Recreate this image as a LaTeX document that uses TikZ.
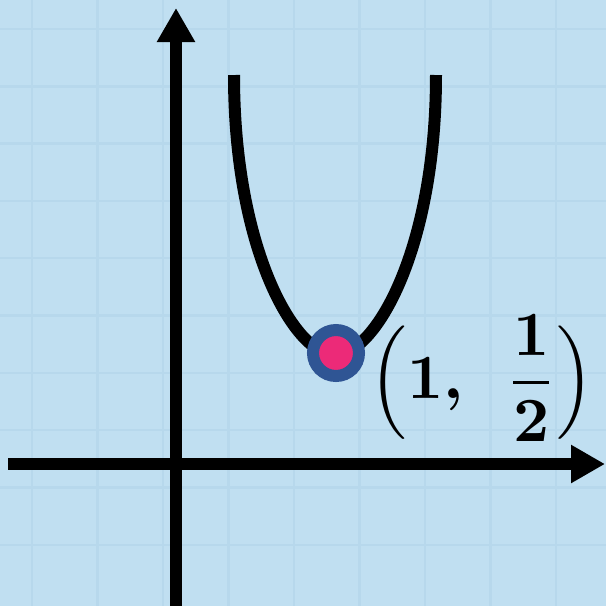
\documentclass[tikz,border=0pt]{standalone}
\usepackage{amsmath}
\usetikzlibrary{arrows.meta}
\definecolor{paper}{HTML}{C0DFF1}
\definecolor{gridline}{HTML}{B7D8EC}
\definecolor{ring}{HTML}{2F5594}
\definecolor{dotfill}{HTML}{EC2A78}
\newcommand{\vertexlabel}{$\Bigl(\mathbf{1}\boldsymbol{,}\enspace\,\dfrac{\mathbf{1}}{\mathbf{2}}\Bigr)$}

\begin{document}
\begin{tikzpicture}[x=.5pt,y=-.5pt,
  axis/.style={line width=6pt,-{Triangle[width=18pt,length=17pt]}},
  vertex/.style={circle,draw=ring,fill=dotfill,line width=6pt,minimum size=23pt,inner sep=0pt}]
\useasboundingbox (0,0) rectangle (606,606);
\fill[paper] (0,0) rectangle (606,606);
\foreach \y in {29,86.3,...,600}{\draw[gridline,line width=1.2pt] (0,\y)--(606,\y);}
\foreach \x in {32,97.5,...,600}{\draw[gridline,line width=1.2pt] (\x,0)--(\x,606);}
\coordinate (xl) at (8,464); \coordinate (xr) at (605,464);
\coordinate (yb) at (176,606); \coordinate (yt) at (176,8);
\draw[axis] (xl)--(xr); \draw[axis] (yb)--(yt);
\draw[line width=6pt] (234,75) .. controls (234,250) and (295,355) .. (335,355) .. controls (375,355) and (436,250) .. (436,75);
\node[vertex] (vtx) at (336,353) {};
\node[scale=3.15] (lbl) at (482,378) {\vertexlabel};
\end{tikzpicture}
\end{document}
